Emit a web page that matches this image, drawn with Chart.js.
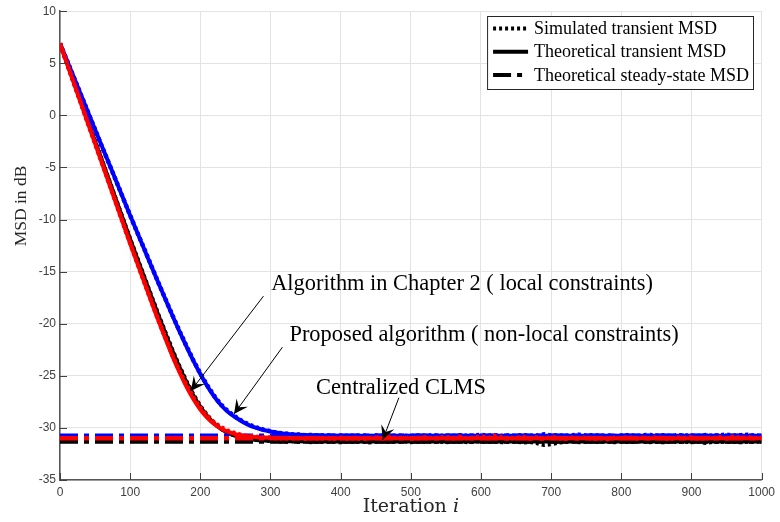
<!DOCTYPE html>
<html>
<head>
<meta charset="utf-8">
<script src="https://cdn.jsdelivr.net/npm/chart.js@4.4.0/dist/chart.umd.min.js"></script>
<style>
  html, body { margin: 0; padding: 0; background: #fff; }
</style>
</head>
<body>
<canvas id="chart" width="780" height="522"></canvas>
<script>
// iterations where the theoretical curves are sampled
const theoryIter = [0, 20, 40, 60, 80, 100, 120, 140, 160, 170, 180, 190, 200, 210, 220, 230, 240, 250, 260, 270, 280, 290, 300, 320, 340, 360, 380, 400, 1000]

const blueTheory = [6.9, 3.6, 0.3, -3.0, -6.3, -9.6, -12.83, -16.05, -19.19, -20.7, -22.15, -23.54, -24.82, -25.99, -27.01, -27.85, -28.5, -28.98, -29.4, -29.75, -30.0, -30.2, -30.35, -30.55, -30.65, -30.7, -30.73, -30.75, -30.75]
const redTheory = [6.9, 3.06, -0.78, -4.62, -8.46, -12.3, -16.0, -19.65, -23.06, -24.61, -26.01, -27.22, -28.23, -29.03, -29.64, -30.08, -30.39, -30.6, -30.74, -30.83, -30.89, -30.93, -30.95, -30.98, -30.99, -31.0, -31.0, -31.0, -31.0]
const blackTheory = [6.9, 3.14, -0.62, -4.38, -8.14, -11.9, -15.54, -19.15, -22.56, -24.13, -25.58, -26.88, -27.98, -28.88, -29.59, -30.12, -30.5, -30.76, -30.95, -31.07, -31.15, -31.2, -31.24, -31.27, -31.29, -31.3, -31.3, -31.3, -31.3]

// iterations of the simulated (monte carlo) curves
const simIter = [0, 20, 40, 60, 80, 100, 120, 140, 160, 170, 180, 190, 200, 210, 220, 230, 240, 250, 260, 270, 280, 290,
  300, 310, 320, 330, 340, 350, 360, 370, 380, 390,
  400, 410, 420, 430, 440, 450, 460, 470, 480, 490,
  500, 510, 520, 530, 540, 550, 560, 570, 580, 590,
  600, 610, 620, 630, 640, 650, 660, 670, 680, 690,
  700, 710, 720, 730, 740, 750, 760, 770, 780, 790,
  800, 810, 820, 830, 840, 850, 860, 870, 880, 890,
  900, 910, 920, 930, 940, 950, 960, 970, 980, 990, 1000]

const blueSim = [6.9, 3.61, 0.29, -3.02, -6.29, -9.61, -12.80, -16.03, -19.15, -20.66, -22.10, -23.50, -24.78, -25.93, -26.95, -27.80, -28.44, -28.93, -29.36, -29.70, -29.96, -30.16,
  -30.33, -30.47, -30.52, -30.62, -30.63, -30.70, -30.68, -30.74, -30.70, -30.76,
  -30.72, -30.78, -30.74, -30.71, -30.79, -30.73, -30.76, -30.68, -30.77, -30.74,
  -30.80, -30.72, -30.75, -30.69, -30.77, -30.73, -30.78, -30.70, -30.76, -30.74,
  -30.66, -30.75, -30.71, -30.78, -30.72, -30.75, -30.68, -30.77, -30.73, -30.62,
  -30.74, -30.70, -30.77, -30.71, -30.65, -30.74, -30.69, -30.76, -30.72, -30.78,
  -30.73, -30.70, -30.76, -30.72, -30.67, -30.75, -30.71, -30.78, -30.70, -30.74,
  -30.72, -30.77, -30.69, -30.75, -30.71, -30.64, -30.74, -30.70, -30.66, -30.73, -30.75]
const redSim = [6.9, 3.05, -0.80, -4.60, -8.45, -12.28, -15.98, -19.62, -22.98, -24.50, -25.85, -27.05, -28.05, -28.88, -29.50, -29.96, -30.30, -30.52, -30.70, -30.80, -30.86, -30.92,
  -30.92, -31.00, -30.95, -31.02, -30.97, -31.03, -30.96, -31.01, -30.98, -31.04,
  -30.95, -31.02, -30.97, -31.05, -30.99, -30.93, -30.98, -30.85, -31.00, -30.92,
  -31.03, -30.96, -30.90, -31.01, -30.94, -30.88, -30.99, -30.86, -31.02, -30.93,
  -30.80, -30.97, -30.75, -30.90, -31.04, -30.95, -30.88, -31.01, -30.92, -31.05,
  -30.86, -30.97, -31.03, -30.94, -30.99, -30.91, -31.04, -30.96, -31.08, -30.95,
  -30.99, -30.90, -31.03, -30.94, -31.00, -30.92, -30.97, -31.04, -30.93, -30.98,
  -30.90, -31.02, -30.95, -30.99, -30.89, -31.01, -30.85, -30.97, -30.88, -31.00, -30.94]
const blackSim = [6.9, 3.13, -0.63, -4.38, -8.15, -11.9, -15.53, -19.13, -22.52, -24.08, -25.52, -26.82, -27.92, -28.82, -29.55, -30.09, -30.48, -30.74, -30.93, -31.05, -31.13, -31.19,
  -31.22, -31.28, -31.31, -31.26, -31.33, -31.29, -31.35, -31.27, -31.32, -31.30,
  -31.36, -31.28, -31.33, -31.29, -31.37, -31.30, -31.26, -31.34, -31.31, -31.28,
  -31.35, -31.30, -31.27, -31.33, -31.29, -31.36, -31.31, -31.28, -31.34, -31.30,
  -31.27, -31.33, -31.29, -31.35, -31.30, -31.32, -31.38, -31.34, -31.45, -31.62,
  -31.55, -31.40, -31.33, -31.29, -31.35, -31.31, -31.28, -31.34, -31.30, -31.36,
  -31.29, -31.33, -31.30, -31.27, -31.34, -31.31, -31.36, -31.29, -31.33, -31.30,
  -31.35, -31.28, -31.42, -31.32, -31.29, -31.34, -31.30, -31.36, -31.31, -31.28, -31.33]

// theoretical steady state levels
const ssIter = [0, 1000]
const blueSteady = [-30.75, -30.75]
const redSteady = [-31.0, -31.0]
const blackSteady = [-31.3, -31.3]

const legendLabels = ['Simulated transient MSD', 'Theoretical transient MSD', 'Theoretical steady-state MSD']

// annotation texts, placed in data units (iteration, dB)
const notes = [
  { text: 'Algorithm in Chapter 2 ( local constraints)', at: [301, -16.8], from: [290, -17.35], to: [186.5, -26.45] },
  { text: 'Proposed algorithm ( non-local constraints)', at: [327, -21.7], from: [317, -22.25], to: [248, -28.67] },
  { text: 'Centralized CLMS', at: [365, -26.7], from: [483, -27.1], to: [460, -31.14] }
]

const ssDash = [18, 6, 5, 6]

const pts = (xs, ys) => xs.map((x, i) => ({ x: x, y: ys[i] }))

function series(xs, ys, color, kind, order) {
  const d = {
    data: pts(xs, ys),
    borderColor: color,
    backgroundColor: color,
    pointRadius: 0,
    fill: false,
    order: order,
    borderCapStyle: 'butt'
  }
  if (kind == 'sim') {
    d.borderWidth = 4.5
    d.borderDash = [3, 3]
    d.tension = 0
  } else if (kind == 'theory') {
    d.borderWidth = 4
    d.cubicInterpolationMode = 'monotone'
  } else {
    d.borderWidth = 4.5
    d.borderDash = ssDash
  }
  return d
}

const tickFont = { family: 'Liberation Sans', size: 12 }

// inward ticks, legend box, axis titles and the arrows
const extras = {
  id: 'extras',
  afterDraw(chart) {
    const ctx = chart.ctx
    const xs = chart.scales.x, ys = chart.scales.y
    const a = chart.chartArea
    ctx.save()

    // ticks pointing into the plot
    ctx.strokeStyle = '#404040'
    ctx.lineWidth = 1
    ctx.beginPath()
    xs.ticks.forEach(t => {
      const px = Math.round(xs.getPixelForValue(t.value)) + 0.5
      ctx.moveTo(px, a.bottom); ctx.lineTo(px, a.bottom - 7)
    })
    ys.ticks.forEach(t => {
      const py = Math.round(ys.getPixelForValue(t.value)) + 0.5
      ctx.moveTo(a.left, py); ctx.lineTo(a.left + 7, py)
    })
    ctx.stroke()

    // legend
    ctx.font = '18px "Liberation Serif"'
    let w = 0
    legendLabels.forEach(l => { w = Math.max(w, ctx.measureText(l).width) })
    const right = 753, top = 16, rowH = 23.2
    const textX = right - 4 - w
    const sx2 = textX - 6, sx1 = sx2 - 35
    const left = sx1 - 6
    ctx.fillStyle = '#fff'
    ctx.fillRect(left, top, right - left, 73)
    ctx.strokeStyle = '#262626'
    ctx.lineWidth = 1
    ctx.strokeRect(left + 0.5, top + 0.5, right - left, 73)
    const dashes = [[3, 3], [], ssDash]
    legendLabels.forEach((l, i) => {
      const y = top + 12.5 + i * rowH
      ctx.strokeStyle = '#000'
      ctx.lineWidth = 4
      ctx.setLineDash(dashes[i])
      ctx.beginPath(); ctx.moveTo(sx1, y); ctx.lineTo(sx2, y); ctx.stroke()
      ctx.setLineDash([])
      ctx.fillStyle = '#000'
      ctx.textBaseline = 'middle'
      ctx.textAlign = 'left'
      ctx.fillText(l, textX, y + 1)
    })

    // axis titles
    ctx.fillStyle = '#262626'
    ctx.textBaseline = 'alphabetic'
    ctx.textAlign = 'left'
    ctx.font = 'italic 19px "DejaVu Serif"'
    const wi = ctx.measureText('i').width
    ctx.font = '19px "DejaVu Serif"'
    const t1 = 'Iteration '
    const w1 = ctx.measureText(t1).width
    const cx = (a.left + a.right) / 2
    const x0 = cx - (w1 + wi) / 2
    ctx.fillText(t1, x0, 512)
    ctx.font = 'italic 19px "DejaVu Serif"'
    ctx.fillText('i', x0 + w1, 512)

    ctx.save()
    ctx.translate(21, 206)
    ctx.rotate(-Math.PI / 2)
    ctx.font = '17.5px "Liberation Serif"'
    ctx.textAlign = 'center'
    ctx.textBaseline = 'middle'
    ctx.fillText('MSD in dB', 0, 0)
    ctx.restore()

    // annotations with arrows
    ctx.font = '22.4px "Liberation Serif"'
    ctx.textAlign = 'left'
    ctx.textBaseline = 'alphabetic'
    notes.forEach(n => {
      ctx.fillStyle = '#000'
      ctx.fillText(n.text, xs.getPixelForValue(n.at[0]), ys.getPixelForValue(n.at[1]))
      const x1 = xs.getPixelForValue(n.from[0]), y1 = ys.getPixelForValue(n.from[1])
      const x2 = xs.getPixelForValue(n.to[0]), y2 = ys.getPixelForValue(n.to[1])
      ctx.strokeStyle = '#000'
      ctx.lineWidth = 1
      ctx.beginPath(); ctx.moveTo(x1, y1); ctx.lineTo(x2, y2); ctx.stroke()
      const ang = Math.atan2(y2 - y1, x2 - x1)
      const L = 14, W = 7
      const dx = Math.cos(ang), dy = Math.sin(ang), nx = -dy, ny = dx
      ctx.beginPath()
      ctx.moveTo(x2, y2)
      ctx.lineTo(x2 - L * dx + W * nx, y2 - L * dy + W * ny)
      ctx.lineTo(x2 - 0.6 * L * dx, y2 - 0.6 * L * dy)
      ctx.lineTo(x2 - L * dx - W * nx, y2 - L * dy - W * ny)
      ctx.closePath()
      ctx.fill()
    })
    ctx.restore()
  }
}

const chart = new Chart(document.getElementById('chart'), {
  type: 'line',
  data: {
    datasets: [
      series(ssIter, blackSteady, '#000000', 'ss', 9),
      series(theoryIter, blackTheory, '#000000', 'theory', 8),
      series(simIter, blackSim, '#000000', 'sim', 7),
      series(ssIter, blueSteady, '#0000ff', 'ss', 6),
      series(theoryIter, blueTheory, '#0000ff', 'theory', 5),
      series(simIter, blueSim, '#0000ff', 'sim', 4),
      series(ssIter, redSteady, '#ff0000', 'ss', 3),
      series(theoryIter, redTheory, '#ff0000', 'theory', 2),
      series(simIter, redSim, '#ff0000', 'sim', 1)
    ]
  },
  options: {
    responsive: false,
    animation: false,
    devicePixelRatio: 1,
    layout: { padding: { top: 6, right: 14, left: 0, bottom: 0 } },
    plugins: { legend: { display: false }, tooltip: { enabled: false } },
    scales: {
      x: {
        type: 'linear', min: 0, max: 1000,
        ticks: { stepSize: 100, padding: 5, color: '#404040', font: tickFont, maxRotation: 0, callback: v => String(v) },
        grid: { color: '#e3e3e3', drawTicks: false },
        border: { color: '#555555', width: 1.5 },
        afterFit: s => { s.height = 42 }
      },
      y: {
        min: -35, max: 10,
        ticks: { stepSize: 5, padding: 4, color: '#404040', font: tickFont, callback: v => String(v) },
        grid: { color: '#e3e3e3', drawTicks: false },
        border: { color: '#555555', width: 1.5 },
        afterFit: s => { s.width = 60 }
      }
    }
  },
  plugins: [extras]
})
</script>
</body>
</html>
